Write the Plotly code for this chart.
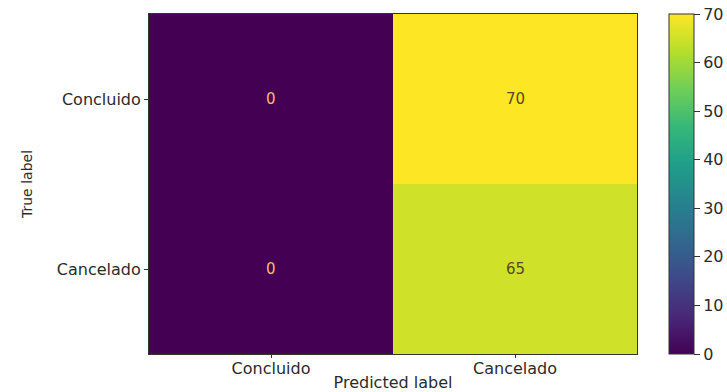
import plotly.graph_objects as go

# Confusion matrix: rows are true labels, columns are predicted labels
classes = ["Concluido", "Cancelado"]
counts = [
    [0, 70],
    [0, 65],
]
colorbar_ticks = [0, 10, 20, 30, 40, 50, 60, 70]

FONT = "DejaVu Sans"
INK = "#2b2b2b"
zmax = 70

fig = go.Figure(
    go.Heatmap(
        z=counts,
        x=classes,
        y=classes,
        colorscale="Viridis",
        zmin=0,
        zmax=zmax,
        colorbar=dict(
            x=1.0656,
            xanchor="left",
            xpad=0,
            ypad=0,
            y=0.5,
            yanchor="middle",
            len=1.0,
            lenmode="fraction",
            thickness=25,
            thicknessmode="pixels",
            outlinewidth=1,
            outlinecolor="#333333",
            tickvals=colorbar_ticks,
            ticks="outside",
            ticklen=6,
            tickwidth=1,
            tickcolor="#333333",
            tickfont=dict(family=FONT, size=16, color=INK),
        ),
        hoverinfo="skip",
    )
)

# Cell values: light text on dark cells, dark text on bright cells
for i, row in enumerate(counts):
    for j, v in enumerate(row):
        fig.add_annotation(
            x=classes[j],
            y=classes[i],
            text=str(v),
            showarrow=False,
            font=dict(family=FONT, size=15,
                      color="#f0bf6a" if v < zmax / 2 else "#5a4a1a"),
        )

fig.update_layout(
    width=727,
    height=392,
    margin=dict(l=149, r=90, t=14, b=38, autoexpand=False),
    paper_bgcolor="white",
    plot_bgcolor="white",
    font=dict(family=FONT, size=16, color=INK),
    xaxis=dict(
        title=dict(text="Predicted label", standoff=2,
                   font=dict(family=FONT, size=16, color=INK)),
        showline=True,
        mirror=True,
        linecolor="#333333",
        linewidth=1,
        ticks="outside",
        ticklen=3,
        ticklabelstandoff=-3,
        tickcolor="#333333",
        showgrid=False,
        zeroline=False,
        tickfont=dict(family=FONT, size=16, color=INK),
    ),
    yaxis=dict(
        title=dict(text="True label", standoff=20,
                   font=dict(family=FONT, size=14, color=INK)),
        autorange="reversed",
        showline=True,
        mirror=True,
        linecolor="#333333",
        linewidth=1,
        ticks="outside",
        ticklen=4,
        tickcolor="#333333",
        showgrid=False,
        zeroline=False,
        tickfont=dict(family=FONT, size=16, color=INK),
    ),
)

fig.write_html("out.html")
